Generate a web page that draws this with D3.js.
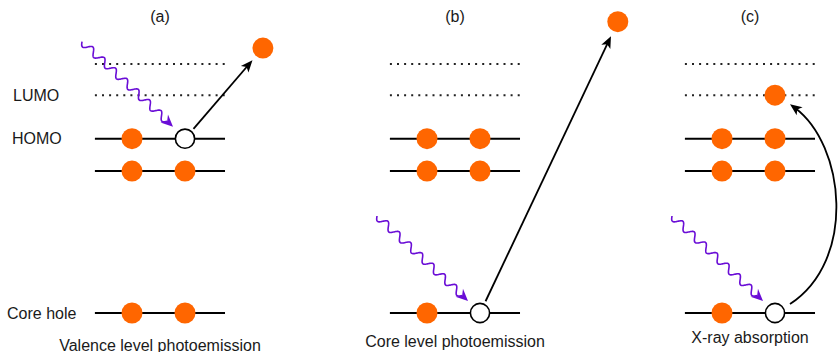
<!DOCTYPE html>
<html>
<head>
<meta charset="utf-8">
<script src="https://cdn.jsdelivr.net/npm/d3@7"></script>
<style>
  body { margin: 0; background: #fff; }
  svg { display: block; font-family: "Liberation Sans", Arial, sans-serif; }
</style>
</head>
<body>
<div id="chart"></div>
<script>
// panels and captions
const panels = ["(a)", "(b)", "(c)"];
const captions = ["Valence level photoemission", "Core level photoemission", "X-ray absorption"];

// energy levels (arbitrary energy units), top to bottom
const levelNames = ["", "LUMO", "HOMO", "", "Core hole"];
const levelEnergy = [10, 8.75, 7, 5.7, 0];
const levelEmpty = [true, true, false, false, false];

// occupied states per panel: [level index, slot]
const electronsA = [[2, 0], [3, 0], [3, 1], [4, 0], [4, 1]];
const electronsB = [[2, 0], [2, 1], [3, 0], [3, 1], [4, 0]];
const electronsC = [[1, 1], [2, 0], [2, 1], [3, 0], [3, 1], [4, 0]];
const electrons = [electronsA, electronsB, electronsC];

// holes per panel: [level index, slot]
const holes = [[2, 1], [4, 1], [4, 1]];

// free (photo)electrons: [slot, energy], null where none
const freeElectrons = [[2.47, 10.64], [3.6, 11.7], null];

const width = 839, height = 352;

const svg = d3.select("#chart").append("svg")
    .attr("width", width)
    .attr("height", height);

// scales
const panelX = d3.scalePoint().domain(panels).range([95, 685]);
const slotX = d3.scaleLinear().domain([0, 1]).range([37, 90]);
const yE = d3.scaleLinear().domain([0, 10]).range([313, 64]);
const lineSpan = [-0.7, 1.755];

const orange = "#ff6600", purple = "#6a0dd6";
const rE = 10.5, rH = 9.6;

function arrowHead(g, tip, angle, color, big) {
    const p = big ? "M0,0 L-12,-5.5 L-8,0 L-12,5.5Z" : "M0,0 L-12,-5 L-9,0 L-12,5Z";
    g.append("path")
        .attr("d", p)
        .attr("fill", color)
        .attr("transform", `translate(${tip[0]},${tip[1]}) rotate(${angle * 180 / Math.PI})`);
}

function photon(g, hx, hy) {
    const S = [hx - 103, hy - 97];
    const T = [hx - 12, hy - 12];
    const dx = T[0] - S[0], dy = T[1] - S[1];
    const len = Math.hypot(dx, dy);
    const ux = dx / len, uy = dy / len;
    const nx = -uy, ny = ux;
    const waveLen = len - 8;
    const pts = d3.range(0, 241).map(i => {
        const t = i / 240;
        const s = Math.sin(2 * Math.PI * 7.5 * t) * 3.6;
        return [S[0] + ux * waveLen * t + nx * s, S[1] + uy * waveLen * t + ny * s];
    });
    g.append("path")
        .attr("d", d3.line()(pts))
        .attr("fill", "none")
        .attr("stroke", purple)
        .attr("stroke-width", 1.6);
    arrowHead(g, T, Math.atan2(dy, dx), purple, true);
}

panels.forEach((p, pi) => {
    const g = svg.append("g").attr("transform", `translate(${panelX(p)},0)`);
    const cx = (slotX(lineSpan[0]) + slotX(lineSpan[1])) / 2;

    g.append("text")
        .attr("x", cx).attr("y", 22)
        .attr("text-anchor", "middle")
        .attr("font-size", 16)
        .attr("fill", "#1a1a1a")
        .text(p);

    // levels
    levelEnergy.forEach((e, li) => {
        g.append("line")
            .attr("x1", slotX(lineSpan[0])).attr("x2", slotX(lineSpan[1]))
            .attr("y1", yE(e)).attr("y2", yE(e))
            .attr("stroke", levelEmpty[li] ? "#222" : "#000")
            .attr("stroke-width", 2)
            .attr("stroke-dasharray", levelEmpty[li] ? "2,5.1" : null);
    });

    // electrons
    g.selectAll("circle.e").data(electrons[pi]).enter()
        .append("circle")
        .attr("class", "e")
        .attr("cx", d => slotX(d[1]))
        .attr("cy", d => yE(levelEnergy[d[0]]))
        .attr("r", rE)
        .attr("fill", orange);

    // hole
    const h = holes[pi];
    const hx = slotX(h[1]), hy = yE(levelEnergy[h[0]]);
    g.append("circle")
        .attr("cx", hx).attr("cy", hy).attr("r", rH)
        .attr("fill", "#fff")
        .attr("stroke", "#000")
        .attr("stroke-width", 1.6);

    photon(g, hx, hy);

    // outgoing electron / excitation
    const f = freeElectrons[pi];
    if (f) {
        const fx = slotX(f[0]), fy = yE(f[1]);
        g.append("circle").attr("cx", fx).attr("cy", fy).attr("r", rE).attr("fill", orange);
        const ang = Math.atan2(fy - hy, fx - hx);
        const s = [hx + Math.cos(ang) * 13, hy + Math.sin(ang) * 13];
        const t = [fx - Math.cos(ang) * 16, fy - Math.sin(ang) * 16];
        g.append("line")
            .attr("x1", s[0]).attr("y1", s[1])
            .attr("x2", t[0] - Math.cos(ang) * 6).attr("y2", t[1] - Math.sin(ang) * 6)
            .attr("stroke", "#000").attr("stroke-width", 1.8);
        arrowHead(g, t, ang, "#000");
    } else {
        // excitation into LUMO
        const target = electrons[pi].find(d => levelEmpty[d[0]]);
        const ex = slotX(target[1]), ey = yE(levelEnergy[target[0]]);
        const P0 = [hx + 15, hy - 9], P3 = [ex + 15, ey + 9];
        const C1 = [hx + 82, hy - 53], C2 = [ex + 70, ey + 50];
        const ang = Math.atan2(P3[1] - C2[1], P3[0] - C2[0]);
        const P3b = [P3[0] - Math.cos(ang) * 6, P3[1] - Math.sin(ang) * 6];
        const path = d3.path();
        path.moveTo(P0[0], P0[1]);
        path.bezierCurveTo(C1[0], C1[1], C2[0], C2[1], P3b[0], P3b[1]);
        g.append("path")
            .attr("d", path.toString())
            .attr("fill", "none")
            .attr("stroke", "#000").attr("stroke-width", 1.8);
        arrowHead(g, P3, ang, "#000");
    }
});

// level labels (left of panel a)
const labelX = { "LUMO": 13, "HOMO": 12, "Core hole": 7 };
levelNames.forEach((n, li) => {
    if (!n) return;
    svg.append("text")
        .attr("x", labelX[n])
        .attr("y", yE(levelEnergy[li]) + 5.5)
        .attr("font-size", 16)
        .attr("fill", "#1a1a1a")
        .text(n);
});

// captions
const captionY = [350.5, 347, 343];
captions.forEach((c, i) => {
    svg.append("text")
        .attr("x", panelX(panels[i]) + 65)
        .attr("y", captionY[i])
        .attr("text-anchor", "middle")
        .attr("font-size", 16)
        .attr("fill", "#1a1a1a")
        .text(c);
});
</script>
</body>
</html>
